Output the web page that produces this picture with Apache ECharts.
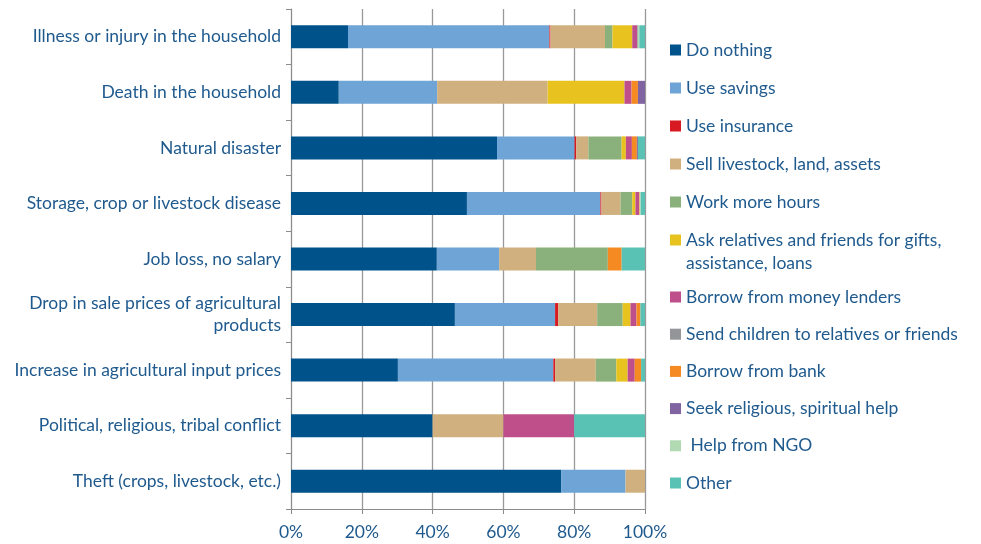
<!DOCTYPE html>
<html><head><meta charset="utf-8">
<script src="https://cdn.jsdelivr.net/npm/echarts@6/dist/echarts.min.js"></script>
<style>html,body{margin:0;padding:0;background:#fff}#c{width:981px;height:544px}</style>
</head><body><div id="c"></div>
<script>
const categories = ["Illness or injury in the household","Death in the household","Natural disaster","Storage, crop or livestock disease","Job loss, no salary","Drop in sale prices of agricultural\nproducts","Increase in agricultural input prices","Political, religious, tribal conflict","Theft (crops, livestock, etc.)"];
const xTicks = [0,20,40,60,80,100];
const doNothing    = [16.1, 13.5, 58.2, 49.7, 41.2, 46.3, 30.2, 40.0, 76.3];
const useSavings   = [56.9, 27.8, 21.9, 37.7, 17.6, 28.3, 43.9, 0, 18.2];
const useInsurance = [0.3, 0, 0.5, 0.3, 0, 0.9, 0.5, 0, 0];
const sellAssets   = [15.4, 31.2, 3.4, 5.4, 10.4, 11.0, 11.5, 20.0, 5.5];
const workMore     = [2.1, 0, 9.4, 3.3, 20.3, 7.2, 5.8, 0, 0];
const askRelatives = [5.6, 21.7, 1.2, 0.9, 0, 2.2, 3.2, 0, 0];
const moneyLenders = [1.4, 2.0, 1.7, 1.0, 0, 1.7, 2.0, 20.0, 0];
const sendChildren = [0.2, 0, 0, 0, 0, 0, 0, 0, 0];
const borrowBank   = [0, 1.8, 1.4, 0.2, 3.9, 1.1, 1.8, 0, 0];
const religious    = [0, 2.0, 0.3, 0, 0, 0, 0, 0, 0];
const helpNGO      = [0.4, 0, 0, 0.3, 0, 0, 0, 0, 0];
const other        = [1.6, 0, 2.0, 1.2, 6.6, 1.3, 1.1, 20.0, 0];

const seriesNames = ["Do nothing","Use savings","Use insurance","Sell livestock, land, assets","Work more hours","Ask relatives and friends for gifts, assistance, loans","Borrow from money lenders","Send children to relatives or friends","Borrow from bank","Seek religious, spiritual help"," Help from NGO","Other"];
const seriesData = [doNothing,useSavings,useInsurance,sellAssets,workMore,askRelatives,moneyLenders,sendChildren,borrowBank,religious,helpNGO,other];
const colors = ["#00538A","#6FA4D6","#D71A21","#D0B07E","#8AB17B","#E8C320","#BE4F8B","#939598","#F68A22","#8064A2","#B1D9B2","#5AC2B4"];

const txt = "#1F5A8E";
const font = "Lato";
const fs = 17.5;
const chart = echarts.init(document.getElementById('c'));
const legendText = {color: txt, fontFamily: font, fontSize: fs, lineHeight: 23};
chart.setOption({
  animation: false,
  color: colors,
  grid: {left: 291, right: 336, top: 9, bottom: 35, containLabel: false},
  legend: [
    {orient: 'vertical', left: 670, top: 38.5, padding: 0, itemWidth: 11, itemHeight: 11, itemGap: 15, icon: 'rect',
     textStyle: legendText, selectedMode: false,
     data: seriesNames.slice(0,6),
     formatter: n => n.startsWith('Ask') ? 'Ask relatives and friends for gifts,' : n},
    {orient: 'vertical', left: 670, top: 285.5, padding: 0, itemWidth: 11, itemHeight: 11, itemGap: 14.2, icon: 'rect',
     textStyle: legendText, selectedMode: false,
     data: seriesNames.slice(6)}
  ],
  graphic: [{type: 'text', left: 686, top: 254, silent: true,
    style: {text: 'assistance, loans', fill: txt, fontFamily: font, fontSize: fs}}],
  xAxis: {type: 'value', min: 0, max: 100, interval: 20,
    axisLine: {show: true, lineStyle: {color: '#8c8c8c', width: 1}},
    axisTick: {show: true, length: 5, lineStyle: {color: '#8c8c8c'}},
    splitLine: {show: true, lineStyle: {color: '#999', width: 1.3}},
    axisLabel: {formatter: v => v + '%', color: txt, fontFamily: font, fontSize: fs, margin: 14}},
  yAxis: {type: 'category', inverse: true, data: categories,
    axisLine: {show: true, lineStyle: {color: '#8c8c8c', width: 1}},
    axisTick: {show: true, length: 5, lineStyle: {color: '#8c8c8c'}},
    axisLabel: {color: txt, fontFamily: font, fontSize: fs, margin: 10, align: 'right', lineHeight: 22}},
  series: seriesData.map((d,i)=>({
    name: seriesNames[i], type: 'bar', stack: 'total', data: d, barWidth: 23,
    itemStyle: {color: colors[i]}
  }))
});
</script></body></html>
